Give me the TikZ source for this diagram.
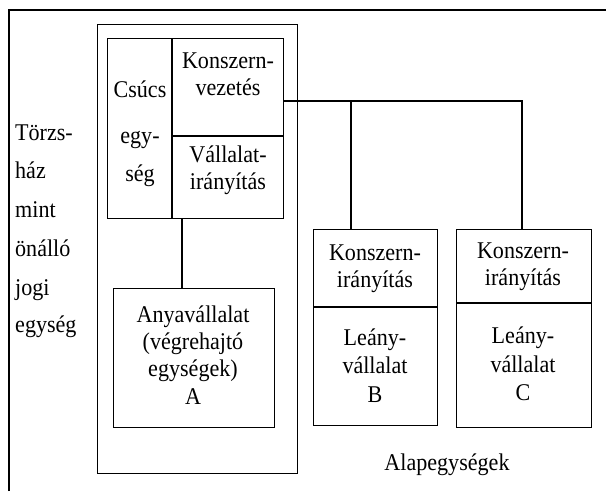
\documentclass[tikz,border=0pt]{standalone}
\usepackage{fontspec}
\setmainfont[FakeStretch=0.92]{Liberation Serif}
\begin{document}
\begin{tikzpicture}[x=1pt,y=-1pt,
  frame/.style={line width=1.2pt},
  box/.style={draw,line width=1.4pt,rectangle,inner sep=0pt,anchor=north west},
  link/.style={line width=2.2pt},
  txt/.style={font=\fontsize{24}{28}\selectfont,anchor=base,inner sep=0pt},
  ltxt/.style={txt,anchor=base west}]
\useasboundingbox (0,0) rectangle (606,491);
% outer frame (open to right and bottom)
\coordinate (oBL) at (9,491);
\coordinate (oTL) at (9,10);
\coordinate (oTR) at (606,10);
\draw[frame] (oBL) -- (oTL) -- (oTR);
% Törzsház box
\node[box,line width=1.2pt,minimum width=200pt,minimum height=449pt] (th) at (97,24) {};
% top box
\node[box,minimum width=176pt,minimum height=180pt] (top) at (107,38) {};
\coordinate (dvx) at (172,38);
\coordinate (dvy) at (172,136);
\draw[line width=1.4pt] (top.north -| dvx) -- (top.south -| dvx);
\draw[line width=1.4pt] (dvy) -- (top.east |- dvy);
% Anyavállalat box
\node[box,minimum width=161pt,minimum height=139pt] (boxA) at (113,288) {};
% box B
\node[box,minimum width=124pt,minimum height=196pt] (boxB) at (313,229) {};
\coordinate (bdv) at (313,307);
\draw[line width=1.4pt] (bdv) -- (boxB.east |- bdv);
% box C
\node[box,minimum width=135pt,minimum height=198pt] (boxC) at (456,229) {};
\coordinate (cdv) at (456,303);
\draw[line width=1.4pt] (cdv) -- (boxC.east |- cdv);
% connectors
\coordinate (hub) at (351,101);
\coordinate (hubC) at (522,101);
\coordinate (aX) at (182,250);
\draw[link] (top.east |- hub) -- (hub) -- (hubC) -- (boxC.north -| hubC);
\draw[link] (hub) -- (boxB.north -| hub);
\draw[link] (top.south -| aX) -- (boxA.north -| aX);
% left text
\node[ltxt] (l1) at (15,140) {Törzs-};
\node[ltxt] (l2) at (15,178) {ház};
\node[ltxt] (l3) at (15,217) {mint};
\node[ltxt] (l4) at (15,256) {önálló};
\node[ltxt] (l5) at (15,295) {jogi};
\node[ltxt] (l6) at (15,332) {egység};
% top box text
\node[txt] (cs1) at (140,97) {Csúcs};
\node[txt] (cs2) at (140,143) {egy-};
\node[txt] (cs3) at (140,181) {ség};
\node[txt] (kv1) at (228,68) {Konszern-};
\node[txt] (kv2) at (228,95) {vezetés};
\node[txt] (vi1) at (228,162) {Vállalat-};
\node[txt] (vi2) at (228,189) {irányítás};
% A box text
\node[txt] (a1) at (193,322) {Anyavállalat};
\node[txt] (a2) at (193,349) {(végrehajtó};
\node[txt] (a3) at (193,376) {egységek)};
\node[txt] (a4) at (193,404) {A};
% B box text
\node[txt] (b1) at (375,260) {Konszern-};
\node[txt] (b2) at (375,287) {irányítás};
\node[txt] (b3) at (375,345) {Leány-};
\node[txt] (b4) at (375,373) {vállalat};
\node[txt] (b5) at (375,402) {B};
% C box text
\node[txt] (c1) at (523,258) {Konszern-};
\node[txt] (c2) at (523,285) {irányítás};
\node[txt] (c3) at (523,343) {Leány-};
\node[txt] (c4) at (523,372) {vállalat};
\node[txt] (c5) at (523,400) {C};
% bottom label
\node[txt] (alap) at (447,470) {Alapegységek};
\end{tikzpicture}
\end{document}
